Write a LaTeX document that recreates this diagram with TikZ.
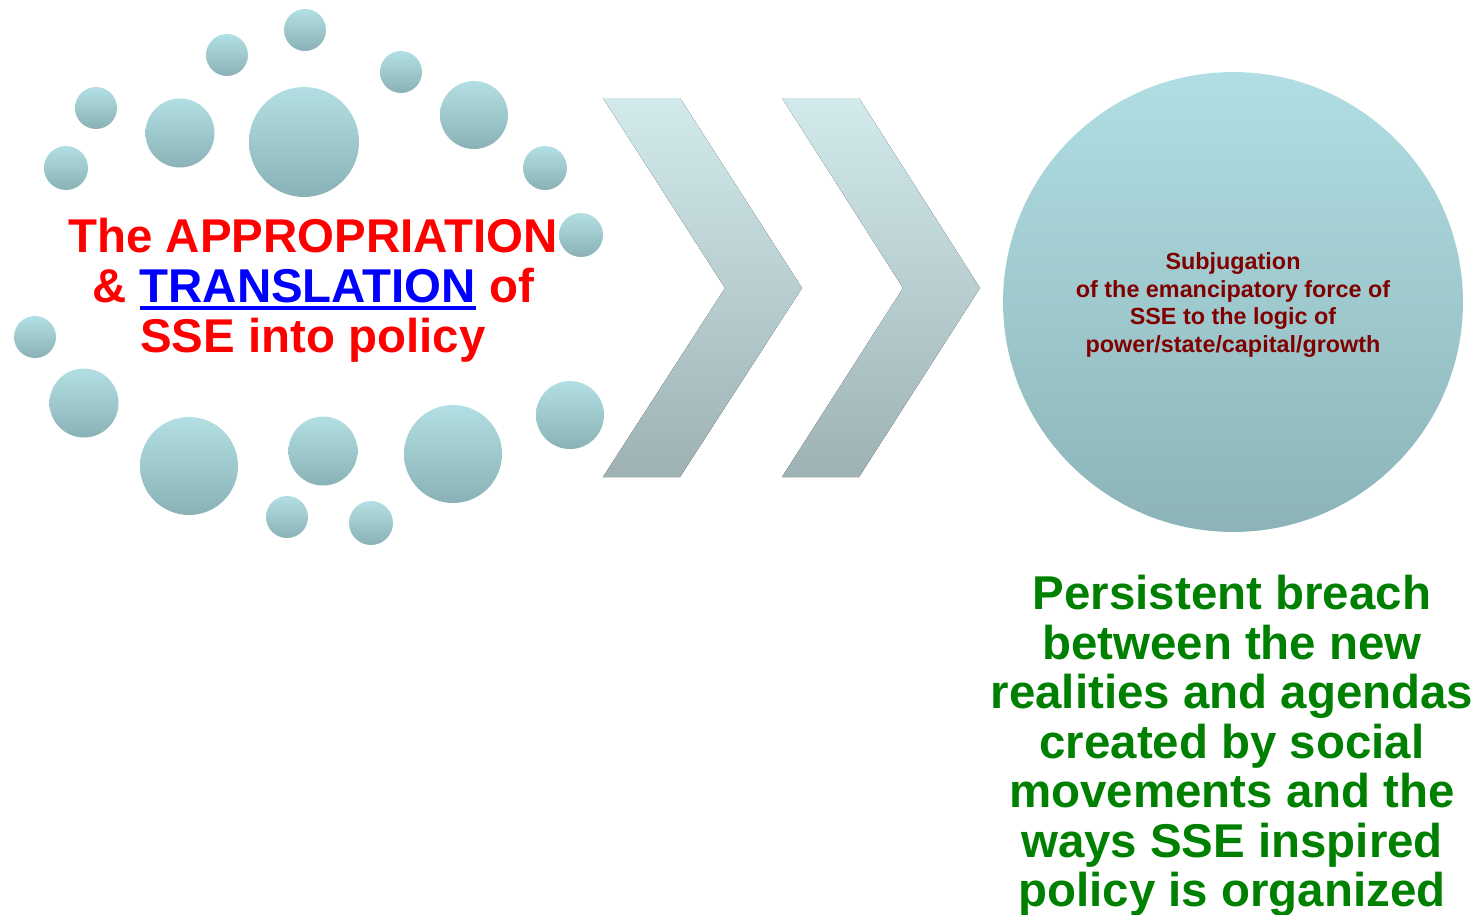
\documentclass[tikz,border=0pt]{standalone}
\usepackage{fontspec}
\setmainfont{Liberation Sans}
\newcommand{\blueul}[1]{\setbox0\hbox{#1}\rlap{\rule[-4.5pt]{\wd0}{2.2pt}}\box0}
\begin{document}
\begin{tikzpicture}[x=0.02cm,y=-0.02cm,
  bubble/.style={circle,inner sep=0pt,minimum size=#1,top color=cbt,bottom color=cbb,draw=none},
  chev/.style={top color=cct,bottom color=ccb,draw=none}]
\definecolor{cbt}{rgb}{0.698,0.875,0.890}
\definecolor{cbb}{rgb}{0.541,0.698,0.714}
\definecolor{cct}{rgb}{0.824,0.918,0.925}
\definecolor{ccb}{rgb}{0.620,0.698,0.706}
\definecolor{cst}{rgb}{0.690,0.871,0.890}
\definecolor{csb}{rgb}{0.549,0.706,0.722}
\definecolor{clred}{rgb}{1.0,0.0,0.0}
\definecolor{clblue}{rgb}{0.0,0.0,1.0}
\definecolor{clsub}{rgb}{0.502,0.0,0.0}
\definecolor{clgreen}{rgb}{0.0,0.502,0.0}
\useasboundingbox (0,0) rectangle (1479,914);
%
\node[bubble=0.84cm] (b1) at (305,30) {};
\node[bubble=0.84cm] (b2) at (227,55) {};
\node[bubble=0.84cm] (b3) at (401,72) {};
\node[bubble=0.84cm] (b4) at (96,108) {};
\node[bubble=1.38cm] (b5) at (180,133) {};
\node[bubble=2.2cm] (b6) at (304,142) {};
\node[bubble=1.36cm] (b7) at (474,115) {};
\node[bubble=0.88cm] (b8) at (66,168) {};
\node[bubble=0.88cm] (b9) at (545,168) {};
\node[bubble=0.88cm] (b10) at (581,235) {};
\node[bubble=0.84cm] (b11) at (35,337) {};
\node[bubble=1.38cm] (b12) at (84,403) {};
\node[bubble=1.36cm] (b13) at (570,415) {};
\node[bubble=1.96cm] (b14) at (189,466) {};
\node[bubble=1.38cm] (b15) at (323,451) {};
\node[bubble=1.96cm] (b16) at (453,454) {};
\node[bubble=0.84cm] (b17) at (287,517) {};
\node[bubble=0.88cm] (b18) at (371,523) {};
%
\fill[chev] (603,98) -- (680,98) -- (802,288) -- (680,477) -- (603,477) -- (725,288) -- cycle;
\fill[chev] (782,98) -- (859,98) -- (980,288) -- (859,477) -- (782,477) -- (903,288) -- cycle;
%
\node[circle,inner sep=0pt,minimum size=9.2cm,top color=cst,bottom color=csb] (sub) at (1233,302) {};
\node[text=clsub,font=\bfseries\fontsize{13.3}{15.6}\selectfont,align=center] (subtxt) at (1233,305)
  {Subjugation\\of the emancipatory force of\\SSE to the logic of\\power/state/capital/growth};
%
\node[text=clred,font=\bfseries\fontsize{27}{28.5}\selectfont,align=center] (appr) at (313,290)
  {The APPROPRIATION\\\& \textcolor{clblue}{\blueul{TRANSLATION}} of\\SSE into policy};
%
\node[text=clgreen,font=\bfseries\fontsize{27}{28.2}\selectfont,align=center] (breach) at (1232,746)
  {Persistent breach\\between the new\\realities and agendas\\created by social\\movements and the\\ways SSE inspired\\policy is organized};
%
\end{tikzpicture}
\end{document}
